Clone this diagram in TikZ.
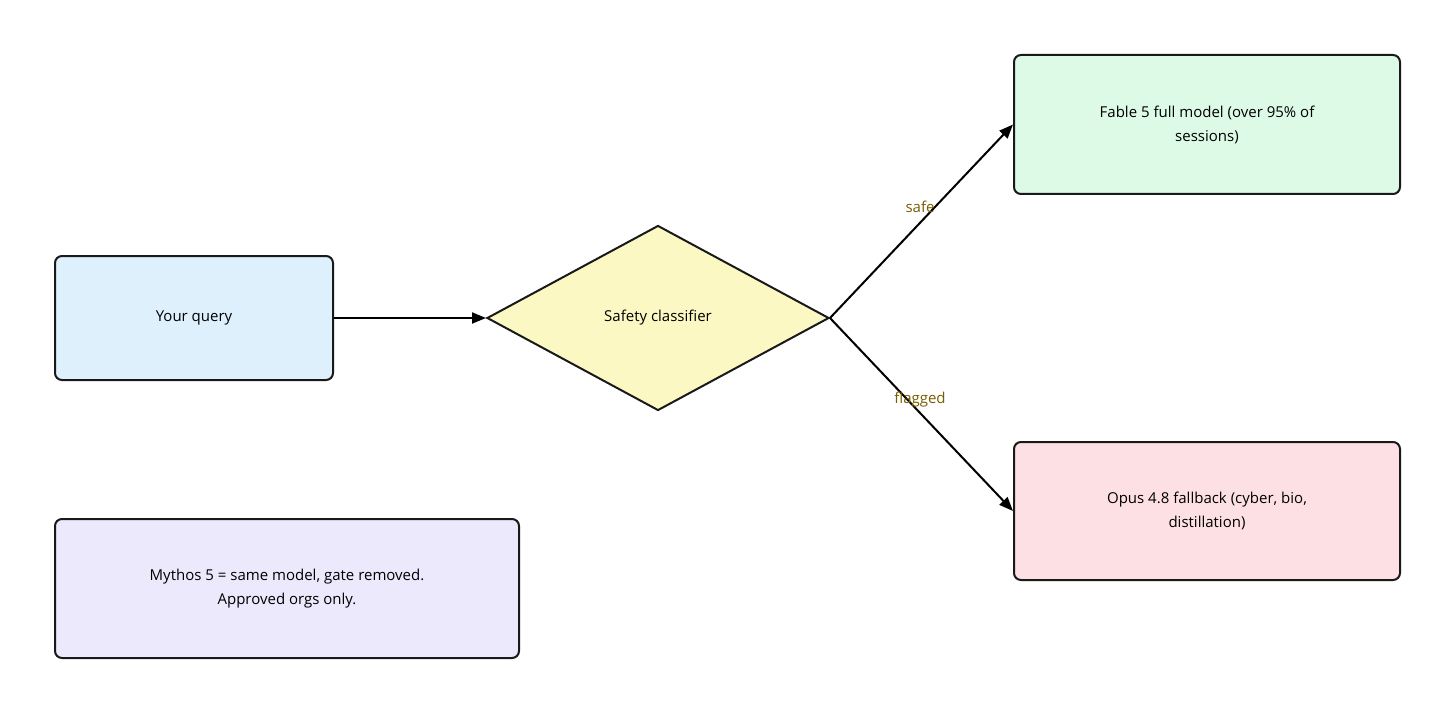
\documentclass[tikz,border=0pt]{standalone}
\usepackage{fontspec}
\setmainfont{Open Sans}
\usetikzlibrary{shapes.geometric,arrows.meta,positioning}
\definecolor{qblue}{HTML}{DFF0FD}
\definecolor{cyellow}{HTML}{FCF8C4}
\definecolor{fgreen}{HTML}{DCFAE6}
\definecolor{ored}{HTML}{FDE0E3}
\definecolor{mpurple}{HTML}{ECE9FD}
\definecolor{lbl}{HTML}{7A5C00}
\begin{document}
\begin{tikzpicture}[x=1pt,y=-1pt,>={Triangle[length=14pt,width=11pt]},
		box/.style={rectangle,rounded corners=7pt,draw=black!90,line width=2pt,inner sep=0pt,align=center,font=\fontsize{15}{24}\selectfont},
		edgelbl/.style={text=lbl,font=\fontsize{15}{18}\selectfont}]
		\useasboundingbox (0,0) rectangle (1456,714);
		\node[box,fill=qblue,minimum width=278pt,minimum height=124pt]  (query)  at (194,318)   {Your query};
		\node[box,shape=diamond,rounded corners=0pt,fill=cyellow,minimum width=342pt,minimum height=185pt] (clf) at (658,318) {Safety classifier};
		\node[box,fill=fgreen,minimum width=386pt,minimum height=139pt] (full) at (1207,124.5) {Fable 5 full model (over 95\% of\\sessions)};
		\node[box,fill=ored,minimum width=386pt,minimum height=138pt]   (fallback) at (1207,511) {Opus 4.8 fallback (cyber, bio,\\distillation)};
		\node[box,fill=mpurple,minimum width=464pt,minimum height=139pt] (note) at (287,588.5) {Mythos 5 = same model, gate removed.\\Approved orgs only.};
		
		\draw[->,line width=2pt] (query) -- (clf.west);
		\draw[->,line width=2pt] (clf.east) -- (full.west);
		\draw[->,line width=2pt] (clf.east) -- (fallback.west);
		\node[edgelbl] (safe)    at (920,207) {safe};
		\node[edgelbl] (flagged) at (920,400) {flagged};
\end{tikzpicture}
\end{document}
